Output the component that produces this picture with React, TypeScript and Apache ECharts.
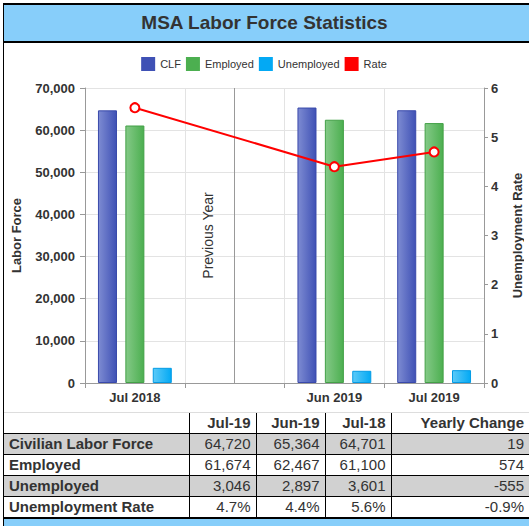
import React, { useEffect, useRef } from 'react';
import * as echarts from 'echarts';

const FONT = 'Arial, "Liberation Sans", Helvetica, sans-serif';

// Chart data (chart order: Jul 2018, gap, Jun 2019, Jul 2019)
const categories = ['Jul 2018', '', 'Jun 2019', 'Jul 2019'];
const clf = [64701, null, 65364, 64720];
const employed = [61100, null, 62467, 61674];
const unemployed = [3601, null, 2897, 3046];
const rate = [5.6, null, 4.4, 4.7];

// Table data
const tableHeaders = ['Jul-19', 'Jun-19', 'Jul-18', 'Yearly Change'];
const rowLabels = ['Civilian Labor Force', 'Employed', 'Unemployed', 'Unemployment Rate'];
const clfRow = [64720, 65364, 64701];
const employedRow = [61674, 62467, 61100];
const unemployedRow = [3046, 2897, 3601];
const rateRow = [4.7, 4.4, 5.6];
const yearlyChange = ['19', '574', '-555', '-0.9%'];

const fmt = (v: number) => v.toLocaleString('en-US');
const pct = (v: number) => v.toFixed(1) + '%';

const tableRows: string[][] = [
  [...clfRow.map(fmt), yearlyChange[0]],
  [...employedRow.map(fmt), yearlyChange[1]],
  [...unemployedRow.map(fmt), yearlyChange[2]],
  [...rateRow.map(pct), yearlyChange[3]],
];

const grad = (a: string, b: string) =>
  new echarts.graphic.LinearGradient(0, 0, 1, 0, [
    { offset: 0, color: a },
    { offset: 1, color: b },
  ]);

export default function App() {
  const ref = useRef<HTMLDivElement>(null);
  useEffect(() => {
    document.body.style.margin = '0';
    const chart = echarts.init(ref.current!, null, { renderer: 'svg' });
    const axisText = { fontFamily: FONT, fontWeight: 'bold' as const, fontSize: 13, color: '#333' };
    chart.setOption({
      animation: false,
      textStyle: { fontFamily: FONT },
      legend: {
        top: 9,
        left: 'center',
        itemWidth: 14,
        itemHeight: 14,
        itemGap: 5,
        textStyle: { fontFamily: FONT, fontSize: 11, color: '#333' },
        data: [
          { name: 'CLF', icon: 'rect', itemStyle: { color: '#3f51b5', borderWidth: 0 } },
          { name: 'Employed', icon: 'rect', itemStyle: { color: '#4caf50', borderWidth: 0 } },
          { name: 'Unemployed', icon: 'rect', itemStyle: { color: '#03a9f4', borderWidth: 0 } },
          { name: 'Rate', icon: 'rect', itemStyle: { color: '#ff0000', borderWidth: 0 }, lineStyle: { width: 0 } },
        ],
      },
      grid: { left: 81, right: 40, top: 45, bottom: 29, containLabel: false, outerBoundsMode: 'none' },
      xAxis: {
        type: 'category',
        data: categories,
        boundaryGap: true,
        axisLine: { show: true, lineStyle: { color: '#999' } },
        axisTick: { show: true, length: 5, lineStyle: { color: '#999' } },
        axisLabel: { ...axisText, margin: 8 },
        splitLine: { show: true, lineStyle: { color: '#e3e3e3' } },
      },
      yAxis: [
        {
          type: 'value',
          min: 0,
          max: 70000,
          interval: 10000,
          name: 'Labor Force',
          nameLocation: 'middle',
          nameRotate: 90,
          nameGap: 62,
          nameTextStyle: axisText,
          axisLine: { show: true, lineStyle: { color: '#999' } },
          axisTick: { show: true, length: 5, lineStyle: { color: '#999' } },
          axisLabel: { ...axisText, margin: 10, formatter: (v: number) => fmt(v) },
          splitLine: { show: true, lineStyle: { color: '#e3e3e3' } },
        },
        {
          type: 'value',
          position: 'right',
          min: 0,
          max: 6,
          interval: 1,
          name: 'Unemployment Rate',
          nameLocation: 'middle',
          nameRotate: 90,
          nameGap: 27,
          nameTextStyle: axisText,
          axisLine: { show: true, lineStyle: { color: '#999' } },
          axisTick: { show: true, length: 4, lineStyle: { color: '#999' } },
          axisLabel: { ...axisText, margin: 7 },
          splitLine: { show: false },
        },
      ],
      series: [
        {
          name: 'CLF',
          type: 'bar',
          data: clf,
          barCategoryGap: '26%',
          barGap: '44%',
          itemStyle: { color: grad('#7d8bd2', '#3f51b5'), borderColor: '#3949ab', borderWidth: 1 },
        },
        {
          name: 'Employed',
          type: 'bar',
          data: employed,
          itemStyle: { color: grad('#84c987', '#4caf50'), borderColor: '#43a047', borderWidth: 1 },
          markLine: {
            silent: true,
            symbol: 'none',
            lineStyle: { color: '#999', type: 'solid', width: 1 },
            label: {
              show: true,
              formatter: 'Previous Year',
              position: 'insideMiddleTop',
              distance: 20,
              color: '#333',
              fontSize: 14,
              fontFamily: FONT,
            },
            data: [{ xAxis: 1 }],
          },
        },
        {
          name: 'Unemployed',
          type: 'bar',
          data: unemployed,
          itemStyle: { color: grad('#5ccaf8', '#03a9f4'), borderColor: '#039be5', borderWidth: 1 },
        },
        {
          name: 'Rate',
          type: 'line',
          yAxisIndex: 1,
          data: rate,
          connectNulls: true,
          symbol: 'circle',
          symbolSize: 9,
          itemStyle: { color: '#fff', borderColor: '#ff0000', borderWidth: 2 },
          lineStyle: { color: '#ff0000', width: 2 },
          z: 5,
        },
      ],
    });
    return () => chart.dispose();
  }, []);

  const cellBase: React.CSSProperties = {
    height: 20,
    lineHeight: '20px',
    padding: '0 5px',
    whiteSpace: 'nowrap',
    overflow: 'hidden',
  };

  return (
    <div
      style={{
        position: 'absolute',
        left: 3,
        top: 3,
        width: 526,
        borderLeft: '1px solid #000',
        borderTop: '2px solid #000',
        fontFamily: FONT,
        overflow: 'hidden',
      }}
    >
      <div
        style={{
          height: 36,
          lineHeight: '36px',
          background: '#87cefa',
          borderBottom: '2px solid #000',
          textAlign: 'center',
          fontSize: 19,
          fontWeight: 'bold',
          color: '#333',
          paddingRight: 5,
        }}
      >
        MSA Labor Force Statistics
      </div>
      <div style={{ borderBottom: '1px solid #ddd', width: 525 }}>
        <div ref={ref} style={{ width: 520, height: 369 }} />
      </div>
      <table
        style={{
          borderCollapse: 'collapse',
          tableLayout: 'fixed',
          width: 525,
          fontSize: 15,
          color: '#333',
          fontFamily: FONT,
        }}
      >
        <colgroup>
          <col style={{ width: 185 }} />
          <col style={{ width: 67 }} />
          <col style={{ width: 69 }} />
          <col style={{ width: 66 }} />
          <col style={{ width: 138 }} />
        </colgroup>
        <tbody>
          <tr>
            <td style={{ ...cellBase, borderBottom: '1px solid #000' }} />
            {tableHeaders.map((h) => (
              <td
                key={h}
                style={{
                  ...cellBase,
                  fontWeight: 'bold',
                  textAlign: 'right',
                  borderLeft: '1px solid #000',
                  borderBottom: '1px solid #000',
                }}
              >
                {h}
              </td>
            ))}
          </tr>
          {rowLabels.map((label, i) => {
            const bg = i % 2 === 0 ? '#d1d1d1' : '#fff';
            const bb = i < rowLabels.length - 1 ? '1px solid #000' : 'none';
            return (
              <tr key={label} style={{ background: bg }}>
                <td style={{ ...cellBase, fontWeight: 'bold', borderBottom: bb }}>{label}</td>
                {tableRows[i].map((v, j) => (
                  <td
                    key={j}
                    style={{ ...cellBase, textAlign: 'right', borderLeft: '1px solid #000', borderBottom: bb }}
                  >
                    {v}
                  </td>
                ))}
              </tr>
            );
          })}
        </tbody>
      </table>
      <div style={{ borderTop: '2px solid #000', background: '#87cefa', height: 12 }} />
    </div>
  );
}
